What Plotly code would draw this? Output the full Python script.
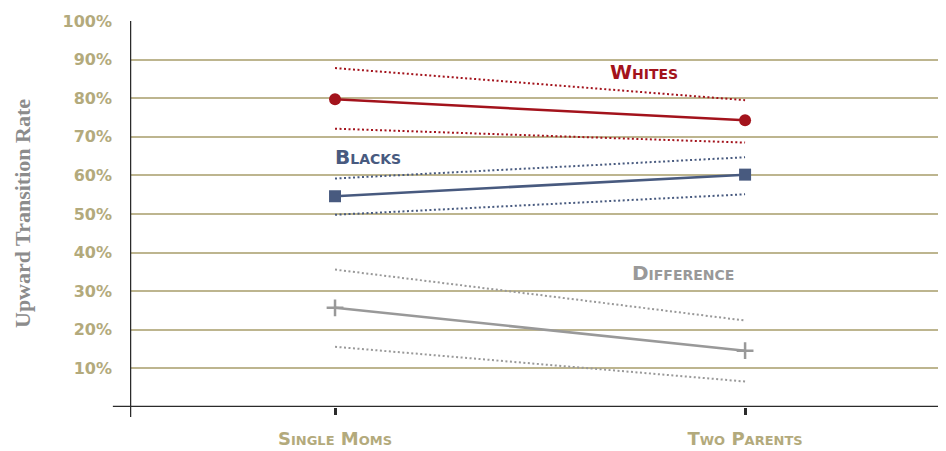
"""
Upward transition rate by family structure, with confidence bands
"""

import plotly.graph_objects as go

categories = ["Single Moms", "Two Parents"]
x_pos = [0, 1]

whites = [79.7, 74.3]
whites_hi = [87.8, 79.5]
whites_lo = [72.1, 68.5]

blacks = [54.6, 60.2]
blacks_hi = [59.2, 64.7]
blacks_lo = [49.8, 55.1]

diff = [25.7, 14.6]
diff_hi = [35.6, 22.4]
diff_lo = [15.6, 6.6]

y_ticks = [10, 20, 30, 40, 50, 60, 70, 80, 90, 100]
y_labels = [f"{v}%" for v in y_ticks]

RED = "#a3131c"
BLUE = "#485a7f"
GRAY = "#999999"
TAN = "#b3aa7c"
GRID = "#bdb58f"
AXIS = "#2b2b2b"

series = [
    ("Whites", whites, whites_hi, whites_lo, RED, "circle", dict(size=12)),
    ("Blacks", blacks, blacks_hi, blacks_lo, BLUE, "square", dict(size=12)),
    ("Difference", diff, diff_hi, diff_lo, GRAY, "cross-thin",
     dict(size=12, line=dict(color=GRAY, width=2.5))),
]

fig = go.Figure()

for name, mid, hi, lo, color, symbol, mk in series:
    for band in (hi, lo):
        fig.add_trace(
            go.Scatter(
                x=x_pos,
                y=band,
                mode="lines",
                line=dict(color=color, width=2, dash="2px,2.5px"),
                hoverinfo="skip",
                showlegend=False,
            )
        )
    fig.add_trace(
        go.Scatter(
            x=x_pos,
            y=mid,
            mode="lines+markers",
            name=name,
            line=dict(color=color, width=2.5),
            marker=dict(symbol=symbol, color=color, **mk),
            showlegend=False,
        )
    )

labels = [
    ("Whites", 0.754, 86.8, RED),
    ("Blacks", 0.08, 64.7, BLUE),
    ("Difference", 0.849, 34.6, GRAY),
]
for text, lx, ly, color in labels:
    fig.add_annotation(
        x=lx,
        y=ly,
        text=text,
        showarrow=False,
        font=dict(family="DejaVu Sans", size=20, color=color,
                  variant="small-caps", weight="bold"),
    )

# y-axis title placed by hand
fig.add_annotation(
    xref="paper",
    yref="paper",
    x=0,
    y=0.5,
    xanchor="center",
    yanchor="middle",
    xshift=-108,
    text="Upward Transition Rate",
    textangle=-90,
    showarrow=False,
    font=dict(family="Liberation Serif", size=22, color="#8c8c8c", weight="bold"),
)

# axis lines drawn as shapes so they can overhang the plot area
fig.add_shape(type="line", xref="x", yref="paper", x0=-0.5, x1=-0.5,
              y0=1, y1=-0.026, line=dict(color=AXIS, width=2.5))
fig.add_shape(type="line", xref="paper", yref="y", x0=-0.021, x1=1,
              y0=0, y1=0, line=dict(color=AXIS, width=2.5))

# page body keeps an 8px margin, so the figure is shifted 8px right and down
fig.update_layout(
    width=938,
    height=443,
    plot_bgcolor="white",
    paper_bgcolor="white",
    margin=dict(l=122, r=0, t=13, b=44),
    font=dict(family="DejaVu Sans", color=TAN),
)

fig.update_xaxes(
    range=[-0.5, 1.49],
    tickvals=x_pos,
    ticktext=categories,
    showgrid=False,
    zeroline=False,
    showline=False,
    automargin=False,
    ticks="outside",
    ticklen=7,
    tickwidth=2.5,
    tickcolor=AXIS,
    ticklabelstandoff=8,
    tickfont=dict(family="DejaVu Sans", size=18, color=TAN,
                  variant="small-caps", weight="bold"),
)

fig.update_yaxes(
    range=[0, 100],
    tickvals=y_ticks,
    ticktext=y_labels,
    showgrid=True,
    gridcolor=GRID,
    gridwidth=2,
    zeroline=False,
    showline=False,
    automargin=False,
    ticks="",
    ticklabelstandoff=17,
    tickfont=dict(family="DejaVu Sans", size=16, color=TAN, weight="bold"),
)

fig.write_html("out.html")
